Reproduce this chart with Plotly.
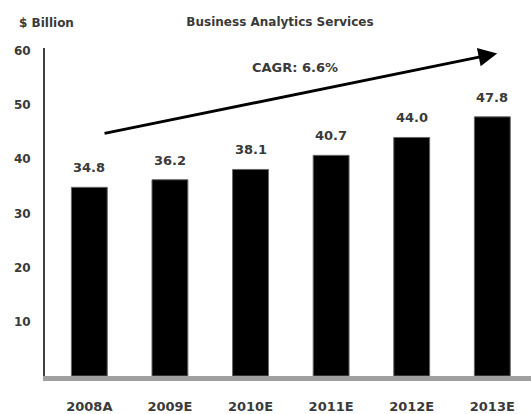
import plotly.graph_objects as go

categories = ["2008A", "2009E", "2010E", "2011E", "2012E", "2013E"]
values = [34.8, 36.2, 38.1, 40.7, 44.0, 47.8]
value_labels = ["34.8", "36.2", "38.1", "40.7", "44.0", "47.8"]
y_ticks = [10, 20, 30, 40, 50, 60]
title_text = "Business Analytics Services"
unit_text = "$ Billion"
cagr_text = "CAGR: 6.6%"

FONT = "DejaVu Sans"
TXT = "#3a3a3a"

fig = go.Figure()
fig.add_trace(go.Bar(
    x=list(range(len(categories))), y=values, width=0.445,
    marker=dict(color="#000000", line=dict(color="#666666", width=1)),
    hoverinfo="skip",
))

annotations = []
for i, (v, lab) in enumerate(zip(values, value_labels)):
    annotations.append(dict(x=i, y=v, xref="x", yref="y", text=lab, showarrow=False,
                            yanchor="bottom", yshift=10,
                            font=dict(family=FONT, size=13, color=TXT, weight="bold")))

# CAGR arrow
annotations.append(dict(x=5.06, y=59.5, ax=0.17, ay=44.7, xref="x", yref="y",
                        axref="x", ayref="y", text="", showarrow=True,
                        arrowhead=2, arrowsize=1.25, arrowwidth=3, arrowcolor="#000000"))
annotations.append(dict(x=2.55, y=56.9, xref="x", yref="y", text=cagr_text, showarrow=False,
                        font=dict(family=FONT, size=13, color=TXT, weight="bold")))
annotations.append(dict(x=-0.0576, y=1.077, xref="paper", yref="paper", text=unit_text,
                        showarrow=False, xanchor="left", yanchor="middle",
                        font=dict(family=FONT, size=12, color=TXT, weight="bold")))

fig.update_layout(
    width=531, height=414,
    margin=dict(l=45, r=0, t=48, b=30),
    paper_bgcolor="white", plot_bgcolor="white",
    showlegend=False,
    title=dict(text=title_text, x=280/531, xref="container", xanchor="center",
               y=1-22/414, yref="container", yanchor="middle",
               font=dict(family=FONT, size=12, color=TXT, weight="bold")),
    annotations=annotations,
    xaxis=dict(range=[-0.55, 5.48], tickmode="array", tickvals=list(range(len(categories))),
               ticktext=categories, showgrid=False, zeroline=False,
               showline=True, linecolor="#a0a0a0", linewidth=5,
               ticks="outside", ticklen=14, tickcolor="rgba(0,0,0,0)",
               tickfont=dict(family=FONT, size=13, color=TXT, weight="bold")),
    yaxis=dict(range=[0, 60.5], tickmode="array", tickvals=y_ticks,
               showgrid=False, zeroline=False,
               showline=True, linecolor="#404040", linewidth=2,
               ticks="outside", ticklen=10, tickcolor="rgba(0,0,0,0)",
               tickfont=dict(family=FONT, size=12, color=TXT, weight="bold")),
)

fig.write_html("out.html")
